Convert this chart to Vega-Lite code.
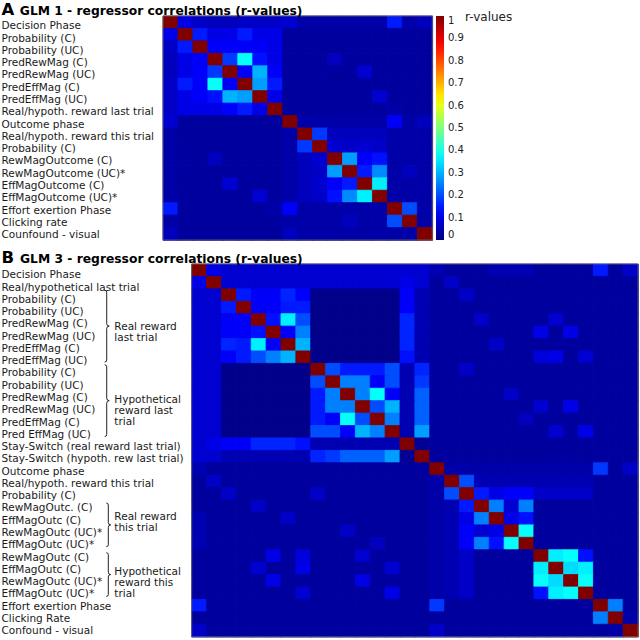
{
"$schema":"https://vega.github.io/schema/vega-lite/v6.json",
"width":640,"height":640,"autosize":{"type":"none"},"padding":0,"background":"white",
"config":{"view":{"stroke":null},"text":{"font":"DejaVu Sans"},"legend":{"labelFont":"DejaVu Sans"}},
"datasets":{
"A":[
{"r":0,"c":0,"v":1},{"r":0,"c":1,"v":0.1},{"r":0,"c":2,"v":0.07},{"r":0,"c":3,"v":0.06},{"r":0,"c":4,"v":0.06},{"r":0,"c":5,"v":0.07},{"r":0,"c":6,"v":0.07},{"r":0,"c":7,"v":0.07},{"r":0,"c":8,"v":0.08},{"r":0,"c":9,"v":0.04},{"r":0,"c":10,"v":0.04},{"r":0,"c":11,"v":0.04},{"r":0,"c":12,"v":0.04},{"r":0,"c":13,"v":0.04},{"r":0,"c":14,"v":0.04},{"r":0,"c":15,"v":0.15},{"r":0,"c":16,"v":0.04},{"r":0,"c":17,"v":0.06},
{"r":1,"c":0,"v":0.1},{"r":1,"c":1,"v":1},{"r":1,"c":2,"v":0.15},{"r":1,"c":3,"v":0.1},{"r":1,"c":4,"v":0.1},{"r":1,"c":5,"v":0.15},{"r":1,"c":6,"v":0.1},{"r":1,"c":7,"v":0.1},{"r":1,"c":8,"v":0.03},{"r":1,"c":9,"v":0.03},{"r":1,"c":10,"v":0.03},{"r":1,"c":11,"v":0.03},{"r":1,"c":12,"v":0.03},{"r":1,"c":13,"v":0.03},{"r":1,"c":14,"v":0.03},{"r":1,"c":15,"v":0.03},{"r":1,"c":16,"v":0.03},{"r":1,"c":17,"v":0.03},
{"r":2,"c":0,"v":0.07},{"r":2,"c":1,"v":0.15},{"r":2,"c":2,"v":1},{"r":2,"c":3,"v":0.12},{"r":2,"c":4,"v":0.12},{"r":2,"c":5,"v":0.12},{"r":2,"c":6,"v":0.12},{"r":2,"c":7,"v":0.1},{"r":2,"c":8,"v":0.03},{"r":2,"c":9,"v":0.03},{"r":2,"c":10,"v":0.03},{"r":2,"c":11,"v":0.03},{"r":2,"c":12,"v":0.03},{"r":2,"c":13,"v":0.03},{"r":2,"c":14,"v":0.03},{"r":2,"c":15,"v":0.03},{"r":2,"c":16,"v":0.03},{"r":2,"c":17,"v":0.03},
{"r":3,"c":0,"v":0.06},{"r":3,"c":1,"v":0.1},{"r":3,"c":2,"v":0.12},{"r":3,"c":3,"v":1},{"r":3,"c":4,"v":0.18},{"r":3,"c":5,"v":0.38},{"r":3,"c":6,"v":0.14},{"r":3,"c":7,"v":0.1},{"r":3,"c":8,"v":0.03},{"r":3,"c":9,"v":0.03},{"r":3,"c":10,"v":0.03},{"r":3,"c":11,"v":0.06},{"r":3,"c":12,"v":0.03},{"r":3,"c":13,"v":0.03},{"r":3,"c":14,"v":0.03},{"r":3,"c":15,"v":0.03},{"r":3,"c":16,"v":0.03},{"r":3,"c":17,"v":0.03},
{"r":4,"c":0,"v":0.06},{"r":4,"c":1,"v":0.1},{"r":4,"c":2,"v":0.12},{"r":4,"c":3,"v":0.18},{"r":4,"c":4,"v":1},{"r":4,"c":5,"v":0.12},{"r":4,"c":6,"v":0.3},{"r":4,"c":7,"v":0.12},{"r":4,"c":8,"v":0.03},{"r":4,"c":9,"v":0.03},{"r":4,"c":10,"v":0.03},{"r":4,"c":11,"v":0.03},{"r":4,"c":12,"v":0.03},{"r":4,"c":13,"v":0.08},{"r":4,"c":14,"v":0.03},{"r":4,"c":15,"v":0.03},{"r":4,"c":16,"v":0.03},{"r":4,"c":17,"v":0.03},
{"r":5,"c":0,"v":0.07},{"r":5,"c":1,"v":0.15},{"r":5,"c":2,"v":0.12},{"r":5,"c":3,"v":0.38},{"r":5,"c":4,"v":0.12},{"r":5,"c":5,"v":1},{"r":5,"c":6,"v":0.28},{"r":5,"c":7,"v":0.15},{"r":5,"c":8,"v":0.03},{"r":5,"c":9,"v":0.03},{"r":5,"c":10,"v":0.03},{"r":5,"c":11,"v":0.03},{"r":5,"c":12,"v":0.03},{"r":5,"c":13,"v":0.03},{"r":5,"c":14,"v":0.03},{"r":5,"c":15,"v":0.03},{"r":5,"c":16,"v":0.03},{"r":5,"c":17,"v":0.03},
{"r":6,"c":0,"v":0.07},{"r":6,"c":1,"v":0.1},{"r":6,"c":2,"v":0.12},{"r":6,"c":3,"v":0.14},{"r":6,"c":4,"v":0.3},{"r":6,"c":5,"v":0.28},{"r":6,"c":6,"v":1},{"r":6,"c":7,"v":0.1},{"r":6,"c":8,"v":0.03},{"r":6,"c":9,"v":0.03},{"r":6,"c":10,"v":0.03},{"r":6,"c":11,"v":0.03},{"r":6,"c":12,"v":0.03},{"r":6,"c":13,"v":0.03},{"r":6,"c":14,"v":0.08},{"r":6,"c":15,"v":0.03},{"r":6,"c":16,"v":0.03},{"r":6,"c":17,"v":0.03},
{"r":7,"c":0,"v":0.07},{"r":7,"c":1,"v":0.1},{"r":7,"c":2,"v":0.1},{"r":7,"c":3,"v":0.1},{"r":7,"c":4,"v":0.12},{"r":7,"c":5,"v":0.15},{"r":7,"c":6,"v":0.1},{"r":7,"c":7,"v":1},{"r":7,"c":8,"v":0.03},{"r":7,"c":9,"v":0.03},{"r":7,"c":10,"v":0.03},{"r":7,"c":11,"v":0.03},{"r":7,"c":12,"v":0.03},{"r":7,"c":13,"v":0.03},{"r":7,"c":14,"v":0.03},{"r":7,"c":15,"v":0.04},{"r":7,"c":16,"v":0.03},{"r":7,"c":17,"v":0.03},
{"r":8,"c":0,"v":0.08},{"r":8,"c":1,"v":0.03},{"r":8,"c":2,"v":0.03},{"r":8,"c":3,"v":0.03},{"r":8,"c":4,"v":0.03},{"r":8,"c":5,"v":0.03},{"r":8,"c":6,"v":0.03},{"r":8,"c":7,"v":0.03},{"r":8,"c":8,"v":1},{"r":8,"c":9,"v":0.04},{"r":8,"c":10,"v":0.04},{"r":8,"c":11,"v":0.04},{"r":8,"c":12,"v":0.04},{"r":8,"c":13,"v":0.04},{"r":8,"c":14,"v":0.04},{"r":8,"c":15,"v":0.12},{"r":8,"c":16,"v":0.04},{"r":8,"c":17,"v":0.06},
{"r":9,"c":0,"v":0.04},{"r":9,"c":1,"v":0.03},{"r":9,"c":2,"v":0.03},{"r":9,"c":3,"v":0.03},{"r":9,"c":4,"v":0.03},{"r":9,"c":5,"v":0.03},{"r":9,"c":6,"v":0.03},{"r":9,"c":7,"v":0.03},{"r":9,"c":8,"v":0.04},{"r":9,"c":9,"v":1},{"r":9,"c":10,"v":0.18},{"r":9,"c":11,"v":0.06},{"r":9,"c":12,"v":0.06},{"r":9,"c":13,"v":0.06},{"r":9,"c":14,"v":0.06},{"r":9,"c":15,"v":0.04},{"r":9,"c":16,"v":0.04},{"r":9,"c":17,"v":0.04},
{"r":10,"c":0,"v":0.04},{"r":10,"c":1,"v":0.03},{"r":10,"c":2,"v":0.03},{"r":10,"c":3,"v":0.03},{"r":10,"c":4,"v":0.03},{"r":10,"c":5,"v":0.03},{"r":10,"c":6,"v":0.03},{"r":10,"c":7,"v":0.03},{"r":10,"c":8,"v":0.04},{"r":10,"c":9,"v":0.18},{"r":10,"c":10,"v":1},{"r":10,"c":11,"v":0.08},{"r":10,"c":12,"v":0.07},{"r":10,"c":13,"v":0.08},{"r":10,"c":14,"v":0.07},{"r":10,"c":15,"v":0.04},{"r":10,"c":16,"v":0.04},{"r":10,"c":17,"v":0.04},
{"r":11,"c":0,"v":0.04},{"r":11,"c":1,"v":0.03},{"r":11,"c":2,"v":0.03},{"r":11,"c":3,"v":0.06},{"r":11,"c":4,"v":0.03},{"r":11,"c":5,"v":0.03},{"r":11,"c":6,"v":0.03},{"r":11,"c":7,"v":0.03},{"r":11,"c":8,"v":0.04},{"r":11,"c":9,"v":0.06},{"r":11,"c":10,"v":0.08},{"r":11,"c":11,"v":1},{"r":11,"c":12,"v":0.28},{"r":11,"c":13,"v":0.12},{"r":11,"c":14,"v":0.14},{"r":11,"c":15,"v":0.04},{"r":11,"c":16,"v":0.04},{"r":11,"c":17,"v":0.04},
{"r":12,"c":0,"v":0.04},{"r":12,"c":1,"v":0.03},{"r":12,"c":2,"v":0.03},{"r":12,"c":3,"v":0.03},{"r":12,"c":4,"v":0.03},{"r":12,"c":5,"v":0.03},{"r":12,"c":6,"v":0.03},{"r":12,"c":7,"v":0.03},{"r":12,"c":8,"v":0.04},{"r":12,"c":9,"v":0.06},{"r":12,"c":10,"v":0.07},{"r":12,"c":11,"v":0.28},{"r":12,"c":12,"v":1},{"r":12,"c":13,"v":0.15},{"r":12,"c":14,"v":0.26},{"r":12,"c":15,"v":0.04},{"r":12,"c":16,"v":0.06},{"r":12,"c":17,"v":0.04},
{"r":13,"c":0,"v":0.04},{"r":13,"c":1,"v":0.03},{"r":13,"c":2,"v":0.03},{"r":13,"c":3,"v":0.03},{"r":13,"c":4,"v":0.08},{"r":13,"c":5,"v":0.03},{"r":13,"c":6,"v":0.03},{"r":13,"c":7,"v":0.03},{"r":13,"c":8,"v":0.04},{"r":13,"c":9,"v":0.06},{"r":13,"c":10,"v":0.08},{"r":13,"c":11,"v":0.12},{"r":13,"c":12,"v":0.15},{"r":13,"c":13,"v":1},{"r":13,"c":14,"v":0.36},{"r":13,"c":15,"v":0.04},{"r":13,"c":16,"v":0.04},{"r":13,"c":17,"v":0.04},
{"r":14,"c":0,"v":0.04},{"r":14,"c":1,"v":0.03},{"r":14,"c":2,"v":0.03},{"r":14,"c":3,"v":0.03},{"r":14,"c":4,"v":0.03},{"r":14,"c":5,"v":0.03},{"r":14,"c":6,"v":0.08},{"r":14,"c":7,"v":0.03},{"r":14,"c":8,"v":0.04},{"r":14,"c":9,"v":0.06},{"r":14,"c":10,"v":0.07},{"r":14,"c":11,"v":0.14},{"r":14,"c":12,"v":0.26},{"r":14,"c":13,"v":0.36},{"r":14,"c":14,"v":1},{"r":14,"c":15,"v":0.04},{"r":14,"c":16,"v":0.04},{"r":14,"c":17,"v":0.04},
{"r":15,"c":0,"v":0.15},{"r":15,"c":1,"v":0.03},{"r":15,"c":2,"v":0.03},{"r":15,"c":3,"v":0.03},{"r":15,"c":4,"v":0.03},{"r":15,"c":5,"v":0.03},{"r":15,"c":6,"v":0.03},{"r":15,"c":7,"v":0.04},{"r":15,"c":8,"v":0.12},{"r":15,"c":9,"v":0.04},{"r":15,"c":10,"v":0.04},{"r":15,"c":11,"v":0.04},{"r":15,"c":12,"v":0.04},{"r":15,"c":13,"v":0.04},{"r":15,"c":14,"v":0.04},{"r":15,"c":15,"v":1},{"r":15,"c":16,"v":0.2},{"r":15,"c":17,"v":0.04},
{"r":16,"c":0,"v":0.04},{"r":16,"c":1,"v":0.03},{"r":16,"c":2,"v":0.03},{"r":16,"c":3,"v":0.03},{"r":16,"c":4,"v":0.03},{"r":16,"c":5,"v":0.03},{"r":16,"c":6,"v":0.03},{"r":16,"c":7,"v":0.03},{"r":16,"c":8,"v":0.04},{"r":16,"c":9,"v":0.04},{"r":16,"c":10,"v":0.04},{"r":16,"c":11,"v":0.04},{"r":16,"c":12,"v":0.06},{"r":16,"c":13,"v":0.04},{"r":16,"c":14,"v":0.04},{"r":16,"c":15,"v":0.2},{"r":16,"c":16,"v":1},{"r":16,"c":17,"v":0.04},
{"r":17,"c":0,"v":0.06},{"r":17,"c":1,"v":0.03},{"r":17,"c":2,"v":0.03},{"r":17,"c":3,"v":0.03},{"r":17,"c":4,"v":0.03},{"r":17,"c":5,"v":0.03},{"r":17,"c":6,"v":0.03},{"r":17,"c":7,"v":0.03},{"r":17,"c":8,"v":0.06},{"r":17,"c":9,"v":0.04},{"r":17,"c":10,"v":0.04},{"r":17,"c":11,"v":0.04},{"r":17,"c":12,"v":0.04},{"r":17,"c":13,"v":0.04},{"r":17,"c":14,"v":0.04},{"r":17,"c":15,"v":0.04},{"r":17,"c":16,"v":0.04},{"r":17,"c":17,"v":1}
],
"B":[
{"r":0,"c":0,"v":1},{"r":0,"c":1,"v":0.1},{"r":0,"c":2,"v":0.08},{"r":0,"c":3,"v":0.08},{"r":0,"c":4,"v":0.08},{"r":0,"c":5,"v":0.08},{"r":0,"c":6,"v":0.08},{"r":0,"c":7,"v":0.08},{"r":0,"c":8,"v":0.08},{"r":0,"c":9,"v":0.08},{"r":0,"c":10,"v":0.08},{"r":0,"c":11,"v":0.08},{"r":0,"c":12,"v":0.08},{"r":0,"c":13,"v":0.08},{"r":0,"c":14,"v":0.08},{"r":0,"c":15,"v":0.08},{"r":0,"c":16,"v":0.05},{"r":0,"c":17,"v":0.03},{"r":0,"c":18,"v":0.03},{"r":0,"c":19,"v":0.03},{"r":0,"c":20,"v":0.05},{"r":0,"c":21,"v":0.05},{"r":0,"c":22,"v":0.05},{"r":0,"c":23,"v":0.03},{"r":0,"c":24,"v":0.03},{"r":0,"c":25,"v":0.03},{"r":0,"c":26,"v":0.03},{"r":0,"c":27,"v":0.15},{"r":0,"c":28,"v":0.03},{"r":0,"c":29,"v":0.07},
{"r":1,"c":0,"v":0.1},{"r":1,"c":1,"v":1},{"r":1,"c":2,"v":0.08},{"r":1,"c":3,"v":0.08},{"r":1,"c":4,"v":0.08},{"r":1,"c":5,"v":0.08},{"r":1,"c":6,"v":0.08},{"r":1,"c":7,"v":0.08},{"r":1,"c":8,"v":0.08},{"r":1,"c":9,"v":0.08},{"r":1,"c":10,"v":0.08},{"r":1,"c":11,"v":0.08},{"r":1,"c":12,"v":0.08},{"r":1,"c":13,"v":0.08},{"r":1,"c":14,"v":0.1},{"r":1,"c":15,"v":0.08},{"r":1,"c":16,"v":0.03},{"r":1,"c":17,"v":0.07},{"r":1,"c":18,"v":0.03},{"r":1,"c":19,"v":0.03},{"r":1,"c":20,"v":0.03},{"r":1,"c":21,"v":0.03},{"r":1,"c":22,"v":0.03},{"r":1,"c":23,"v":0.03},{"r":1,"c":24,"v":0.03},{"r":1,"c":25,"v":0.03},{"r":1,"c":26,"v":0.03},{"r":1,"c":27,"v":0.03},{"r":1,"c":28,"v":0.03},{"r":1,"c":29,"v":0.03},
{"r":2,"c":0,"v":0.08},{"r":2,"c":1,"v":0.08},{"r":2,"c":2,"v":1},{"r":2,"c":3,"v":0.15},{"r":2,"c":4,"v":0.12},{"r":2,"c":5,"v":0.12},{"r":2,"c":6,"v":0.16},{"r":2,"c":7,"v":0.12},{"r":2,"c":8,"v":0.01},{"r":2,"c":9,"v":0.01},{"r":2,"c":10,"v":0.01},{"r":2,"c":11,"v":0.01},{"r":2,"c":12,"v":0.01},{"r":2,"c":13,"v":0.01},{"r":2,"c":14,"v":0.12},{"r":2,"c":15,"v":0.05},{"r":2,"c":16,"v":0.03},{"r":2,"c":17,"v":0.03},{"r":2,"c":18,"v":0.07},{"r":2,"c":19,"v":0.03},{"r":2,"c":20,"v":0.03},{"r":2,"c":21,"v":0.03},{"r":2,"c":22,"v":0.03},{"r":2,"c":23,"v":0.03},{"r":2,"c":24,"v":0.03},{"r":2,"c":25,"v":0.03},{"r":2,"c":26,"v":0.03},{"r":2,"c":27,"v":0.03},{"r":2,"c":28,"v":0.03},{"r":2,"c":29,"v":0.03},
{"r":3,"c":0,"v":0.08},{"r":3,"c":1,"v":0.08},{"r":3,"c":2,"v":0.15},{"r":3,"c":3,"v":1},{"r":3,"c":4,"v":0.12},{"r":3,"c":5,"v":0.12},{"r":3,"c":6,"v":0.15},{"r":3,"c":7,"v":0.15},{"r":3,"c":8,"v":0.01},{"r":3,"c":9,"v":0.01},{"r":3,"c":10,"v":0.01},{"r":3,"c":11,"v":0.01},{"r":3,"c":12,"v":0.01},{"r":3,"c":13,"v":0.01},{"r":3,"c":14,"v":0.12},{"r":3,"c":15,"v":0.05},{"r":3,"c":16,"v":0.03},{"r":3,"c":17,"v":0.03},{"r":3,"c":18,"v":0.03},{"r":3,"c":19,"v":0.03},{"r":3,"c":20,"v":0.03},{"r":3,"c":21,"v":0.03},{"r":3,"c":22,"v":0.03},{"r":3,"c":23,"v":0.03},{"r":3,"c":24,"v":0.03},{"r":3,"c":25,"v":0.03},{"r":3,"c":26,"v":0.03},{"r":3,"c":27,"v":0.03},{"r":3,"c":28,"v":0.03},{"r":3,"c":29,"v":0.03},
{"r":4,"c":0,"v":0.08},{"r":4,"c":1,"v":0.08},{"r":4,"c":2,"v":0.12},{"r":4,"c":3,"v":0.12},{"r":4,"c":4,"v":1},{"r":4,"c":5,"v":0.14},{"r":4,"c":6,"v":0.36},{"r":4,"c":7,"v":0.2},{"r":4,"c":8,"v":0.01},{"r":4,"c":9,"v":0.01},{"r":4,"c":10,"v":0.01},{"r":4,"c":11,"v":0.01},{"r":4,"c":12,"v":0.01},{"r":4,"c":13,"v":0.01},{"r":4,"c":14,"v":0.16},{"r":4,"c":15,"v":0.05},{"r":4,"c":16,"v":0.03},{"r":4,"c":17,"v":0.03},{"r":4,"c":18,"v":0.03},{"r":4,"c":19,"v":0.07},{"r":4,"c":20,"v":0.03},{"r":4,"c":21,"v":0.03},{"r":4,"c":22,"v":0.03},{"r":4,"c":23,"v":0.03},{"r":4,"c":24,"v":0.08},{"r":4,"c":25,"v":0.03},{"r":4,"c":26,"v":0.03},{"r":4,"c":27,"v":0.03},{"r":4,"c":28,"v":0.03},{"r":4,"c":29,"v":0.03},
{"r":5,"c":0,"v":0.08},{"r":5,"c":1,"v":0.08},{"r":5,"c":2,"v":0.12},{"r":5,"c":3,"v":0.12},{"r":5,"c":4,"v":0.14},{"r":5,"c":5,"v":1},{"r":5,"c":6,"v":0.12},{"r":5,"c":7,"v":0.25},{"r":5,"c":8,"v":0.01},{"r":5,"c":9,"v":0.01},{"r":5,"c":10,"v":0.01},{"r":5,"c":11,"v":0.01},{"r":5,"c":12,"v":0.01},{"r":5,"c":13,"v":0.01},{"r":5,"c":14,"v":0.16},{"r":5,"c":15,"v":0.05},{"r":5,"c":16,"v":0.03},{"r":5,"c":17,"v":0.03},{"r":5,"c":18,"v":0.03},{"r":5,"c":19,"v":0.03},{"r":5,"c":20,"v":0.03},{"r":5,"c":21,"v":0.03},{"r":5,"c":22,"v":0.03},{"r":5,"c":23,"v":0.1},{"r":5,"c":24,"v":0.03},{"r":5,"c":25,"v":0.1},{"r":5,"c":26,"v":0.03},{"r":5,"c":27,"v":0.03},{"r":5,"c":28,"v":0.03},{"r":5,"c":29,"v":0.03},
{"r":6,"c":0,"v":0.08},{"r":6,"c":1,"v":0.08},{"r":6,"c":2,"v":0.16},{"r":6,"c":3,"v":0.15},{"r":6,"c":4,"v":0.36},{"r":6,"c":5,"v":0.12},{"r":6,"c":6,"v":1},{"r":6,"c":7,"v":0.3},{"r":6,"c":8,"v":0.01},{"r":6,"c":9,"v":0.01},{"r":6,"c":10,"v":0.01},{"r":6,"c":11,"v":0.01},{"r":6,"c":12,"v":0.01},{"r":6,"c":13,"v":0.01},{"r":6,"c":14,"v":0.16},{"r":6,"c":15,"v":0.05},{"r":6,"c":16,"v":0.03},{"r":6,"c":17,"v":0.03},{"r":6,"c":18,"v":0.03},{"r":6,"c":19,"v":0.03},{"r":6,"c":20,"v":0.07},{"r":6,"c":21,"v":0.03},{"r":6,"c":22,"v":0.03},{"r":6,"c":23,"v":0.03},{"r":6,"c":24,"v":0.03},{"r":6,"c":25,"v":0.03},{"r":6,"c":26,"v":0.03},{"r":6,"c":27,"v":0.03},{"r":6,"c":28,"v":0.03},{"r":6,"c":29,"v":0.03},
{"r":7,"c":0,"v":0.08},{"r":7,"c":1,"v":0.08},{"r":7,"c":2,"v":0.12},{"r":7,"c":3,"v":0.15},{"r":7,"c":4,"v":0.2},{"r":7,"c":5,"v":0.25},{"r":7,"c":6,"v":0.3},{"r":7,"c":7,"v":1},{"r":7,"c":8,"v":0.01},{"r":7,"c":9,"v":0.01},{"r":7,"c":10,"v":0.01},{"r":7,"c":11,"v":0.01},{"r":7,"c":12,"v":0.01},{"r":7,"c":13,"v":0.01},{"r":7,"c":14,"v":0.14},{"r":7,"c":15,"v":0.05},{"r":7,"c":16,"v":0.03},{"r":7,"c":17,"v":0.03},{"r":7,"c":18,"v":0.03},{"r":7,"c":19,"v":0.03},{"r":7,"c":20,"v":0.03},{"r":7,"c":21,"v":0.03},{"r":7,"c":22,"v":0.03},{"r":7,"c":23,"v":0.09},{"r":7,"c":24,"v":0.1},{"r":7,"c":25,"v":0.03},{"r":7,"c":26,"v":0.08},{"r":7,"c":27,"v":0.03},{"r":7,"c":28,"v":0.03},{"r":7,"c":29,"v":0.03},
{"r":8,"c":0,"v":0.08},{"r":8,"c":1,"v":0.08},{"r":8,"c":2,"v":0.01},{"r":8,"c":3,"v":0.01},{"r":8,"c":4,"v":0.01},{"r":8,"c":5,"v":0.01},{"r":8,"c":6,"v":0.01},{"r":8,"c":7,"v":0.01},{"r":8,"c":8,"v":1},{"r":8,"c":9,"v":0.2},{"r":8,"c":10,"v":0.15},{"r":8,"c":11,"v":0.15},{"r":8,"c":12,"v":0.15},{"r":8,"c":13,"v":0.2},{"r":8,"c":14,"v":0.05},{"r":8,"c":15,"v":0.16},{"r":8,"c":16,"v":0.03},{"r":8,"c":17,"v":0.03},{"r":8,"c":18,"v":0.07},{"r":8,"c":19,"v":0.03},{"r":8,"c":20,"v":0.03},{"r":8,"c":21,"v":0.03},{"r":8,"c":22,"v":0.03},{"r":8,"c":23,"v":0.03},{"r":8,"c":24,"v":0.03},{"r":8,"c":25,"v":0.03},{"r":8,"c":26,"v":0.03},{"r":8,"c":27,"v":0.03},{"r":8,"c":28,"v":0.03},{"r":8,"c":29,"v":0.03},
{"r":9,"c":0,"v":0.08},{"r":9,"c":1,"v":0.08},{"r":9,"c":2,"v":0.01},{"r":9,"c":3,"v":0.01},{"r":9,"c":4,"v":0.01},{"r":9,"c":5,"v":0.01},{"r":9,"c":6,"v":0.01},{"r":9,"c":7,"v":0.01},{"r":9,"c":8,"v":0.2},{"r":9,"c":9,"v":1},{"r":9,"c":10,"v":0.25},{"r":9,"c":11,"v":0.25},{"r":9,"c":12,"v":0.12},{"r":9,"c":13,"v":0.2},{"r":9,"c":14,"v":0.05},{"r":9,"c":15,"v":0.18},{"r":9,"c":16,"v":0.03},{"r":9,"c":17,"v":0.03},{"r":9,"c":18,"v":0.03},{"r":9,"c":19,"v":0.03},{"r":9,"c":20,"v":0.03},{"r":9,"c":21,"v":0.03},{"r":9,"c":22,"v":0.03},{"r":9,"c":23,"v":0.03},{"r":9,"c":24,"v":0.03},{"r":9,"c":25,"v":0.03},{"r":9,"c":26,"v":0.03},{"r":9,"c":27,"v":0.03},{"r":9,"c":28,"v":0.03},{"r":9,"c":29,"v":0.03},
{"r":10,"c":0,"v":0.08},{"r":10,"c":1,"v":0.08},{"r":10,"c":2,"v":0.01},{"r":10,"c":3,"v":0.01},{"r":10,"c":4,"v":0.01},{"r":10,"c":5,"v":0.01},{"r":10,"c":6,"v":0.01},{"r":10,"c":7,"v":0.01},{"r":10,"c":8,"v":0.15},{"r":10,"c":9,"v":0.25},{"r":10,"c":10,"v":1},{"r":10,"c":11,"v":0.25},{"r":10,"c":12,"v":0.38},{"r":10,"c":13,"v":0.12},{"r":10,"c":14,"v":0.05},{"r":10,"c":15,"v":0.22},{"r":10,"c":16,"v":0.03},{"r":10,"c":17,"v":0.03},{"r":10,"c":18,"v":0.03},{"r":10,"c":19,"v":0.03},{"r":10,"c":20,"v":0.03},{"r":10,"c":21,"v":0.07},{"r":10,"c":22,"v":0.03},{"r":10,"c":23,"v":0.03},{"r":10,"c":24,"v":0.03},{"r":10,"c":25,"v":0.03},{"r":10,"c":26,"v":0.03},{"r":10,"c":27,"v":0.03},{"r":10,"c":28,"v":0.03},{"r":10,"c":29,"v":0.03},
{"r":11,"c":0,"v":0.08},{"r":11,"c":1,"v":0.08},{"r":11,"c":2,"v":0.01},{"r":11,"c":3,"v":0.01},{"r":11,"c":4,"v":0.01},{"r":11,"c":5,"v":0.01},{"r":11,"c":6,"v":0.01},{"r":11,"c":7,"v":0.01},{"r":11,"c":8,"v":0.15},{"r":11,"c":9,"v":0.25},{"r":11,"c":10,"v":0.25},{"r":11,"c":11,"v":1},{"r":11,"c":12,"v":0.2},{"r":11,"c":13,"v":0.3},{"r":11,"c":14,"v":0.05},{"r":11,"c":15,"v":0.22},{"r":11,"c":16,"v":0.03},{"r":11,"c":17,"v":0.03},{"r":11,"c":18,"v":0.03},{"r":11,"c":19,"v":0.03},{"r":11,"c":20,"v":0.03},{"r":11,"c":21,"v":0.03},{"r":11,"c":22,"v":0.03},{"r":11,"c":23,"v":0.08},{"r":11,"c":24,"v":0.03},{"r":11,"c":25,"v":0.1},{"r":11,"c":26,"v":0.03},{"r":11,"c":27,"v":0.03},{"r":11,"c":28,"v":0.03},{"r":11,"c":29,"v":0.03},
{"r":12,"c":0,"v":0.08},{"r":12,"c":1,"v":0.08},{"r":12,"c":2,"v":0.01},{"r":12,"c":3,"v":0.01},{"r":12,"c":4,"v":0.01},{"r":12,"c":5,"v":0.01},{"r":12,"c":6,"v":0.01},{"r":12,"c":7,"v":0.01},{"r":12,"c":8,"v":0.15},{"r":12,"c":9,"v":0.12},{"r":12,"c":10,"v":0.38},{"r":12,"c":11,"v":0.2},{"r":12,"c":12,"v":1},{"r":12,"c":13,"v":0.25},{"r":12,"c":14,"v":0.05},{"r":12,"c":15,"v":0.22},{"r":12,"c":16,"v":0.03},{"r":12,"c":17,"v":0.03},{"r":12,"c":18,"v":0.03},{"r":12,"c":19,"v":0.03},{"r":12,"c":20,"v":0.03},{"r":12,"c":21,"v":0.03},{"r":12,"c":22,"v":0.06},{"r":12,"c":23,"v":0.03},{"r":12,"c":24,"v":0.03},{"r":12,"c":25,"v":0.03},{"r":12,"c":26,"v":0.03},{"r":12,"c":27,"v":0.03},{"r":12,"c":28,"v":0.03},{"r":12,"c":29,"v":0.03},
{"r":13,"c":0,"v":0.08},{"r":13,"c":1,"v":0.08},{"r":13,"c":2,"v":0.01},{"r":13,"c":3,"v":0.01},{"r":13,"c":4,"v":0.01},{"r":13,"c":5,"v":0.01},{"r":13,"c":6,"v":0.01},{"r":13,"c":7,"v":0.01},{"r":13,"c":8,"v":0.2},{"r":13,"c":9,"v":0.2},{"r":13,"c":10,"v":0.12},{"r":13,"c":11,"v":0.3},{"r":13,"c":12,"v":0.25},{"r":13,"c":13,"v":1},{"r":13,"c":14,"v":0.05},{"r":13,"c":15,"v":0.28},{"r":13,"c":16,"v":0.03},{"r":13,"c":17,"v":0.03},{"r":13,"c":18,"v":0.03},{"r":13,"c":19,"v":0.03},{"r":13,"c":20,"v":0.03},{"r":13,"c":21,"v":0.03},{"r":13,"c":22,"v":0.03},{"r":13,"c":23,"v":0.03},{"r":13,"c":24,"v":0.08},{"r":13,"c":25,"v":0.03},{"r":13,"c":26,"v":0.1},{"r":13,"c":27,"v":0.03},{"r":13,"c":28,"v":0.03},{"r":13,"c":29,"v":0.03},
{"r":14,"c":0,"v":0.08},{"r":14,"c":1,"v":0.1},{"r":14,"c":2,"v":0.12},{"r":14,"c":3,"v":0.12},{"r":14,"c":4,"v":0.16},{"r":14,"c":5,"v":0.16},{"r":14,"c":6,"v":0.16},{"r":14,"c":7,"v":0.14},{"r":14,"c":8,"v":0.05},{"r":14,"c":9,"v":0.05},{"r":14,"c":10,"v":0.05},{"r":14,"c":11,"v":0.05},{"r":14,"c":12,"v":0.05},{"r":14,"c":13,"v":0.05},{"r":14,"c":14,"v":1},{"r":14,"c":15,"v":0.02},{"r":14,"c":16,"v":0.03},{"r":14,"c":17,"v":0.03},{"r":14,"c":18,"v":0.03},{"r":14,"c":19,"v":0.03},{"r":14,"c":20,"v":0.03},{"r":14,"c":21,"v":0.03},{"r":14,"c":22,"v":0.03},{"r":14,"c":23,"v":0.03},{"r":14,"c":24,"v":0.03},{"r":14,"c":25,"v":0.03},{"r":14,"c":26,"v":0.03},{"r":14,"c":27,"v":0.03},{"r":14,"c":28,"v":0.03},{"r":14,"c":29,"v":0.03},
{"r":15,"c":0,"v":0.08},{"r":15,"c":1,"v":0.08},{"r":15,"c":2,"v":0.05},{"r":15,"c":3,"v":0.05},{"r":15,"c":4,"v":0.05},{"r":15,"c":5,"v":0.05},{"r":15,"c":6,"v":0.05},{"r":15,"c":7,"v":0.05},{"r":15,"c":8,"v":0.16},{"r":15,"c":9,"v":0.18},{"r":15,"c":10,"v":0.22},{"r":15,"c":11,"v":0.22},{"r":15,"c":12,"v":0.22},{"r":15,"c":13,"v":0.28},{"r":15,"c":14,"v":0.02},{"r":15,"c":15,"v":1},{"r":15,"c":16,"v":0.03},{"r":15,"c":17,"v":0.03},{"r":15,"c":18,"v":0.03},{"r":15,"c":19,"v":0.03},{"r":15,"c":20,"v":0.03},{"r":15,"c":21,"v":0.03},{"r":15,"c":22,"v":0.03},{"r":15,"c":23,"v":0.03},{"r":15,"c":24,"v":0.03},{"r":15,"c":25,"v":0.03},{"r":15,"c":26,"v":0.03},{"r":15,"c":27,"v":0.03},{"r":15,"c":28,"v":0.03},{"r":15,"c":29,"v":0.03},
{"r":16,"c":0,"v":0.05},{"r":16,"c":1,"v":0.03},{"r":16,"c":2,"v":0.03},{"r":16,"c":3,"v":0.03},{"r":16,"c":4,"v":0.03},{"r":16,"c":5,"v":0.03},{"r":16,"c":6,"v":0.03},{"r":16,"c":7,"v":0.03},{"r":16,"c":8,"v":0.03},{"r":16,"c":9,"v":0.03},{"r":16,"c":10,"v":0.03},{"r":16,"c":11,"v":0.03},{"r":16,"c":12,"v":0.03},{"r":16,"c":13,"v":0.03},{"r":16,"c":14,"v":0.03},{"r":16,"c":15,"v":0.03},{"r":16,"c":16,"v":1},{"r":16,"c":17,"v":0.04},{"r":16,"c":18,"v":0.04},{"r":16,"c":19,"v":0.04},{"r":16,"c":20,"v":0.04},{"r":16,"c":21,"v":0.04},{"r":16,"c":22,"v":0.04},{"r":16,"c":23,"v":0.04},{"r":16,"c":24,"v":0.04},{"r":16,"c":25,"v":0.04},{"r":16,"c":26,"v":0.04},{"r":16,"c":27,"v":0.18},{"r":16,"c":28,"v":0.03},{"r":16,"c":29,"v":0.07},
{"r":17,"c":0,"v":0.03},{"r":17,"c":1,"v":0.07},{"r":17,"c":2,"v":0.03},{"r":17,"c":3,"v":0.03},{"r":17,"c":4,"v":0.03},{"r":17,"c":5,"v":0.03},{"r":17,"c":6,"v":0.03},{"r":17,"c":7,"v":0.03},{"r":17,"c":8,"v":0.03},{"r":17,"c":9,"v":0.03},{"r":17,"c":10,"v":0.03},{"r":17,"c":11,"v":0.03},{"r":17,"c":12,"v":0.03},{"r":17,"c":13,"v":0.03},{"r":17,"c":14,"v":0.03},{"r":17,"c":15,"v":0.03},{"r":17,"c":16,"v":0.04},{"r":17,"c":17,"v":1},{"r":17,"c":18,"v":0.2},{"r":17,"c":19,"v":0.05},{"r":17,"c":20,"v":0.05},{"r":17,"c":21,"v":0.05},{"r":17,"c":22,"v":0.05},{"r":17,"c":23,"v":0.05},{"r":17,"c":24,"v":0.05},{"r":17,"c":25,"v":0.05},{"r":17,"c":26,"v":0.05},{"r":17,"c":27,"v":0.03},{"r":17,"c":28,"v":0.03},{"r":17,"c":29,"v":0.03},
{"r":18,"c":0,"v":0.03},{"r":18,"c":1,"v":0.03},{"r":18,"c":2,"v":0.07},{"r":18,"c":3,"v":0.03},{"r":18,"c":4,"v":0.03},{"r":18,"c":5,"v":0.03},{"r":18,"c":6,"v":0.03},{"r":18,"c":7,"v":0.03},{"r":18,"c":8,"v":0.07},{"r":18,"c":9,"v":0.03},{"r":18,"c":10,"v":0.03},{"r":18,"c":11,"v":0.03},{"r":18,"c":12,"v":0.03},{"r":18,"c":13,"v":0.03},{"r":18,"c":14,"v":0.03},{"r":18,"c":15,"v":0.03},{"r":18,"c":16,"v":0.04},{"r":18,"c":17,"v":0.2},{"r":18,"c":18,"v":1},{"r":18,"c":19,"v":0.15},{"r":18,"c":20,"v":0.1},{"r":18,"c":21,"v":0.12},{"r":18,"c":22,"v":0.12},{"r":18,"c":23,"v":0.07},{"r":18,"c":24,"v":0.07},{"r":18,"c":25,"v":0.07},{"r":18,"c":26,"v":0.07},{"r":18,"c":27,"v":0.03},{"r":18,"c":28,"v":0.03},{"r":18,"c":29,"v":0.03},
{"r":19,"c":0,"v":0.03},{"r":19,"c":1,"v":0.03},{"r":19,"c":2,"v":0.03},{"r":19,"c":3,"v":0.03},{"r":19,"c":4,"v":0.07},{"r":19,"c":5,"v":0.03},{"r":19,"c":6,"v":0.03},{"r":19,"c":7,"v":0.03},{"r":19,"c":8,"v":0.03},{"r":19,"c":9,"v":0.03},{"r":19,"c":10,"v":0.03},{"r":19,"c":11,"v":0.03},{"r":19,"c":12,"v":0.03},{"r":19,"c":13,"v":0.03},{"r":19,"c":14,"v":0.03},{"r":19,"c":15,"v":0.03},{"r":19,"c":16,"v":0.04},{"r":19,"c":17,"v":0.05},{"r":19,"c":18,"v":0.15},{"r":19,"c":19,"v":1},{"r":19,"c":20,"v":0.25},{"r":19,"c":21,"v":0.08},{"r":19,"c":22,"v":0.25},{"r":19,"c":23,"v":0.03},{"r":19,"c":24,"v":0.03},{"r":19,"c":25,"v":0.03},{"r":19,"c":26,"v":0.03},{"r":19,"c":27,"v":0.03},{"r":19,"c":28,"v":0.03},{"r":19,"c":29,"v":0.03},
{"r":20,"c":0,"v":0.05},{"r":20,"c":1,"v":0.03},{"r":20,"c":2,"v":0.03},{"r":20,"c":3,"v":0.03},{"r":20,"c":4,"v":0.03},{"r":20,"c":5,"v":0.03},{"r":20,"c":6,"v":0.07},{"r":20,"c":7,"v":0.03},{"r":20,"c":8,"v":0.03},{"r":20,"c":9,"v":0.03},{"r":20,"c":10,"v":0.03},{"r":20,"c":11,"v":0.03},{"r":20,"c":12,"v":0.03},{"r":20,"c":13,"v":0.03},{"r":20,"c":14,"v":0.03},{"r":20,"c":15,"v":0.03},{"r":20,"c":16,"v":0.04},{"r":20,"c":17,"v":0.05},{"r":20,"c":18,"v":0.1},{"r":20,"c":19,"v":0.25},{"r":20,"c":20,"v":1},{"r":20,"c":21,"v":0.1},{"r":20,"c":22,"v":0.14},{"r":20,"c":23,"v":0.03},{"r":20,"c":24,"v":0.03},{"r":20,"c":25,"v":0.03},{"r":20,"c":26,"v":0.03},{"r":20,"c":27,"v":0.03},{"r":20,"c":28,"v":0.03},{"r":20,"c":29,"v":0.03},
{"r":21,"c":0,"v":0.05},{"r":21,"c":1,"v":0.03},{"r":21,"c":2,"v":0.03},{"r":21,"c":3,"v":0.03},{"r":21,"c":4,"v":0.03},{"r":21,"c":5,"v":0.03},{"r":21,"c":6,"v":0.03},{"r":21,"c":7,"v":0.03},{"r":21,"c":8,"v":0.03},{"r":21,"c":9,"v":0.03},{"r":21,"c":10,"v":0.07},{"r":21,"c":11,"v":0.03},{"r":21,"c":12,"v":0.03},{"r":21,"c":13,"v":0.03},{"r":21,"c":14,"v":0.03},{"r":21,"c":15,"v":0.03},{"r":21,"c":16,"v":0.04},{"r":21,"c":17,"v":0.05},{"r":21,"c":18,"v":0.12},{"r":21,"c":19,"v":0.08},{"r":21,"c":20,"v":0.1},{"r":21,"c":21,"v":1},{"r":21,"c":22,"v":0.38},{"r":21,"c":23,"v":0.03},{"r":21,"c":24,"v":0.03},{"r":21,"c":25,"v":0.03},{"r":21,"c":26,"v":0.03},{"r":21,"c":27,"v":0.03},{"r":21,"c":28,"v":0.03},{"r":21,"c":29,"v":0.03},
{"r":22,"c":0,"v":0.05},{"r":22,"c":1,"v":0.03},{"r":22,"c":2,"v":0.03},{"r":22,"c":3,"v":0.03},{"r":22,"c":4,"v":0.03},{"r":22,"c":5,"v":0.03},{"r":22,"c":6,"v":0.03},{"r":22,"c":7,"v":0.03},{"r":22,"c":8,"v":0.03},{"r":22,"c":9,"v":0.03},{"r":22,"c":10,"v":0.03},{"r":22,"c":11,"v":0.03},{"r":22,"c":12,"v":0.06},{"r":22,"c":13,"v":0.03},{"r":22,"c":14,"v":0.03},{"r":22,"c":15,"v":0.03},{"r":22,"c":16,"v":0.04},{"r":22,"c":17,"v":0.05},{"r":22,"c":18,"v":0.12},{"r":22,"c":19,"v":0.25},{"r":22,"c":20,"v":0.14},{"r":22,"c":21,"v":0.38},{"r":22,"c":22,"v":1},{"r":22,"c":23,"v":0.03},{"r":22,"c":24,"v":0.03},{"r":22,"c":25,"v":0.03},{"r":22,"c":26,"v":0.03},{"r":22,"c":27,"v":0.03},{"r":22,"c":28,"v":0.03},{"r":22,"c":29,"v":0.03},
{"r":23,"c":0,"v":0.03},{"r":23,"c":1,"v":0.03},{"r":23,"c":2,"v":0.03},{"r":23,"c":3,"v":0.03},{"r":23,"c":4,"v":0.03},{"r":23,"c":5,"v":0.1},{"r":23,"c":6,"v":0.03},{"r":23,"c":7,"v":0.09},{"r":23,"c":8,"v":0.03},{"r":23,"c":9,"v":0.03},{"r":23,"c":10,"v":0.03},{"r":23,"c":11,"v":0.08},{"r":23,"c":12,"v":0.03},{"r":23,"c":13,"v":0.03},{"r":23,"c":14,"v":0.03},{"r":23,"c":15,"v":0.03},{"r":23,"c":16,"v":0.04},{"r":23,"c":17,"v":0.05},{"r":23,"c":18,"v":0.07},{"r":23,"c":19,"v":0.03},{"r":23,"c":20,"v":0.03},{"r":23,"c":21,"v":0.03},{"r":23,"c":22,"v":0.03},{"r":23,"c":23,"v":1},{"r":23,"c":24,"v":0.36},{"r":23,"c":25,"v":0.38},{"r":23,"c":26,"v":0.14},{"r":23,"c":27,"v":0.03},{"r":23,"c":28,"v":0.03},{"r":23,"c":29,"v":0.03},
{"r":24,"c":0,"v":0.03},{"r":24,"c":1,"v":0.03},{"r":24,"c":2,"v":0.03},{"r":24,"c":3,"v":0.03},{"r":24,"c":4,"v":0.08},{"r":24,"c":5,"v":0.03},{"r":24,"c":6,"v":0.03},{"r":24,"c":7,"v":0.1},{"r":24,"c":8,"v":0.03},{"r":24,"c":9,"v":0.03},{"r":24,"c":10,"v":0.03},{"r":24,"c":11,"v":0.03},{"r":24,"c":12,"v":0.03},{"r":24,"c":13,"v":0.08},{"r":24,"c":14,"v":0.03},{"r":24,"c":15,"v":0.03},{"r":24,"c":16,"v":0.04},{"r":24,"c":17,"v":0.05},{"r":24,"c":18,"v":0.07},{"r":24,"c":19,"v":0.03},{"r":24,"c":20,"v":0.03},{"r":24,"c":21,"v":0.03},{"r":24,"c":22,"v":0.03},{"r":24,"c":23,"v":0.36},{"r":24,"c":24,"v":1},{"r":24,"c":25,"v":0.34},{"r":24,"c":26,"v":0.36},{"r":24,"c":27,"v":0.03},{"r":24,"c":28,"v":0.03},{"r":24,"c":29,"v":0.03},
{"r":25,"c":0,"v":0.03},{"r":25,"c":1,"v":0.03},{"r":25,"c":2,"v":0.03},{"r":25,"c":3,"v":0.03},{"r":25,"c":4,"v":0.03},{"r":25,"c":5,"v":0.1},{"r":25,"c":6,"v":0.03},{"r":25,"c":7,"v":0.03},{"r":25,"c":8,"v":0.03},{"r":25,"c":9,"v":0.03},{"r":25,"c":10,"v":0.03},{"r":25,"c":11,"v":0.1},{"r":25,"c":12,"v":0.03},{"r":25,"c":13,"v":0.03},{"r":25,"c":14,"v":0.03},{"r":25,"c":15,"v":0.03},{"r":25,"c":16,"v":0.04},{"r":25,"c":17,"v":0.05},{"r":25,"c":18,"v":0.07},{"r":25,"c":19,"v":0.03},{"r":25,"c":20,"v":0.03},{"r":25,"c":21,"v":0.03},{"r":25,"c":22,"v":0.03},{"r":25,"c":23,"v":0.38},{"r":25,"c":24,"v":0.34},{"r":25,"c":25,"v":1},{"r":25,"c":26,"v":0.38},{"r":25,"c":27,"v":0.03},{"r":25,"c":28,"v":0.03},{"r":25,"c":29,"v":0.03},
{"r":26,"c":0,"v":0.03},{"r":26,"c":1,"v":0.03},{"r":26,"c":2,"v":0.03},{"r":26,"c":3,"v":0.03},{"r":26,"c":4,"v":0.03},{"r":26,"c":5,"v":0.03},{"r":26,"c":6,"v":0.03},{"r":26,"c":7,"v":0.08},{"r":26,"c":8,"v":0.03},{"r":26,"c":9,"v":0.03},{"r":26,"c":10,"v":0.03},{"r":26,"c":11,"v":0.03},{"r":26,"c":12,"v":0.03},{"r":26,"c":13,"v":0.1},{"r":26,"c":14,"v":0.03},{"r":26,"c":15,"v":0.03},{"r":26,"c":16,"v":0.04},{"r":26,"c":17,"v":0.05},{"r":26,"c":18,"v":0.07},{"r":26,"c":19,"v":0.03},{"r":26,"c":20,"v":0.03},{"r":26,"c":21,"v":0.03},{"r":26,"c":22,"v":0.03},{"r":26,"c":23,"v":0.14},{"r":26,"c":24,"v":0.36},{"r":26,"c":25,"v":0.38},{"r":26,"c":26,"v":1},{"r":26,"c":27,"v":0.03},{"r":26,"c":28,"v":0.03},{"r":26,"c":29,"v":0.03},
{"r":27,"c":0,"v":0.15},{"r":27,"c":1,"v":0.03},{"r":27,"c":2,"v":0.03},{"r":27,"c":3,"v":0.03},{"r":27,"c":4,"v":0.03},{"r":27,"c":5,"v":0.03},{"r":27,"c":6,"v":0.03},{"r":27,"c":7,"v":0.03},{"r":27,"c":8,"v":0.03},{"r":27,"c":9,"v":0.03},{"r":27,"c":10,"v":0.03},{"r":27,"c":11,"v":0.03},{"r":27,"c":12,"v":0.03},{"r":27,"c":13,"v":0.03},{"r":27,"c":14,"v":0.03},{"r":27,"c":15,"v":0.03},{"r":27,"c":16,"v":0.18},{"r":27,"c":17,"v":0.03},{"r":27,"c":18,"v":0.03},{"r":27,"c":19,"v":0.03},{"r":27,"c":20,"v":0.03},{"r":27,"c":21,"v":0.03},{"r":27,"c":22,"v":0.03},{"r":27,"c":23,"v":0.03},{"r":27,"c":24,"v":0.03},{"r":27,"c":25,"v":0.03},{"r":27,"c":26,"v":0.03},{"r":27,"c":27,"v":1},{"r":27,"c":28,"v":0.25},{"r":27,"c":29,"v":0.03},
{"r":28,"c":0,"v":0.03},{"r":28,"c":1,"v":0.03},{"r":28,"c":2,"v":0.03},{"r":28,"c":3,"v":0.03},{"r":28,"c":4,"v":0.03},{"r":28,"c":5,"v":0.03},{"r":28,"c":6,"v":0.03},{"r":28,"c":7,"v":0.03},{"r":28,"c":8,"v":0.03},{"r":28,"c":9,"v":0.03},{"r":28,"c":10,"v":0.03},{"r":28,"c":11,"v":0.03},{"r":28,"c":12,"v":0.03},{"r":28,"c":13,"v":0.03},{"r":28,"c":14,"v":0.03},{"r":28,"c":15,"v":0.03},{"r":28,"c":16,"v":0.03},{"r":28,"c":17,"v":0.03},{"r":28,"c":18,"v":0.03},{"r":28,"c":19,"v":0.03},{"r":28,"c":20,"v":0.03},{"r":28,"c":21,"v":0.03},{"r":28,"c":22,"v":0.03},{"r":28,"c":23,"v":0.03},{"r":28,"c":24,"v":0.03},{"r":28,"c":25,"v":0.03},{"r":28,"c":26,"v":0.03},{"r":28,"c":27,"v":0.25},{"r":28,"c":28,"v":1},{"r":28,"c":29,"v":0.04},
{"r":29,"c":0,"v":0.07},{"r":29,"c":1,"v":0.03},{"r":29,"c":2,"v":0.03},{"r":29,"c":3,"v":0.03},{"r":29,"c":4,"v":0.03},{"r":29,"c":5,"v":0.03},{"r":29,"c":6,"v":0.03},{"r":29,"c":7,"v":0.03},{"r":29,"c":8,"v":0.03},{"r":29,"c":9,"v":0.03},{"r":29,"c":10,"v":0.03},{"r":29,"c":11,"v":0.03},{"r":29,"c":12,"v":0.03},{"r":29,"c":13,"v":0.03},{"r":29,"c":14,"v":0.03},{"r":29,"c":15,"v":0.03},{"r":29,"c":16,"v":0.07},{"r":29,"c":17,"v":0.03},{"r":29,"c":18,"v":0.03},{"r":29,"c":19,"v":0.03},{"r":29,"c":20,"v":0.03},{"r":29,"c":21,"v":0.03},{"r":29,"c":22,"v":0.03},{"r":29,"c":23,"v":0.03},{"r":29,"c":24,"v":0.03},{"r":29,"c":25,"v":0.03},{"r":29,"c":26,"v":0.03},{"r":29,"c":27,"v":0.03},{"r":29,"c":28,"v":0.04},{"r":29,"c":29,"v":1}
],
"labA":[
{"r":0,"t":"Decision Phase"},{"r":1,"t":"\u2009Probability (C)"},{"r":2,"t":"\u2009Probability (UC)"},{"r":3,"t":"\u2009PredRewMag (C)"},{"r":4,"t":"\u2009PredRewMag (UC)"},{"r":5,"t":"\u2009PredEffMag (C)"},{"r":6,"t":"\u2009PredEffMag (UC)"},{"r":7,"t":"\u2009Real/hypoth. reward last trial"},{"r":8,"t":"Outcome phase"},{"r":9,"t":"\u2009Real/hypoth. reward this trial"},{"r":10,"t":"\u2009Probability (C)"},{"r":11,"t":"\u2009RewMagOutcome (C)"},{"r":12,"t":"\u2009RewMagOutcome (UC)*"},{"r":13,"t":"\u2009EffMagOutcome (C)"},{"r":14,"t":"\u2009EffMagOutcome (UC)*"},{"r":15,"t":"Effort exertion Phase"},{"r":16,"t":"\u2009Clicking rate"},{"r":17,"t":"Counfound - visual"}
],
"labB":[
{"r":0,"t":"Decision Phase"},{"r":1,"t":"\u2009Real/hypothetical last trial"},{"r":2,"t":"\u2009Probability (C)"},{"r":3,"t":"\u2009Probability (UC)"},{"r":4,"t":"\u2009PredRewMag (C)"},{"r":5,"t":"\u2009PredRewMag (UC)"},{"r":6,"t":"\u2009PredEffMag (C)"},{"r":7,"t":"\u2009PredEffMag (UC)"},{"r":8,"t":"\u2009Probability (C)"},{"r":9,"t":"\u2009Probability (UC)"},{"r":10,"t":"\u2009PredRewMag (C)"},{"r":11,"t":"\u2009PredRewMag (UC)"},{"r":12,"t":"\u2009PredEffMag (C)"},{"r":13,"t":"\u2009Pred EffMag (UC)"},{"r":14,"t":"\u2009Stay-Switch (real reward last trial)"},{"r":15,"t":"\u2009Stay-Switch (hypoth. rew last trial)"},{"r":16,"t":"Outcome phase"},{"r":17,"t":"\u2009Real/hypoth. reward this trial"},{"r":18,"t":"\u2009Probability (C)"},{"r":19,"t":"\u2009RewMagOutc. (C)"},{"r":20,"t":"\u2009EffMagOutc (C)"},{"r":21,"t":"\u2009RewMagOutc (UC)*"},{"r":22,"t":"\u2009EffMagOutc (UC)*"},{"r":23,"t":"\u2009RewMagOutc (C)"},{"r":24,"t":"\u2009EffMagOutc (C)"},{"r":25,"t":"\u2009RewMagOutc (UC)*"},{"r":26,"t":"\u2009EffMagOutc (UC)*"},{"r":27,"t":"Effort exertion Phase"},{"r":28,"t":"\u2009Clicking Rate"},{"r":29,"t":"Confound - visual"}
],
"braces":[
{"n":6,"mid":5,"ty":5.06,"t":["Real reward","last trial"]},
{"n":6,"mid":11,"ty":10.92,"t":["Hypothetical","reward last","trial"]},
{"n":4,"mid":21,"ty":20.33,"t":["Real reward","this trial"]},
{"n":4,"mid":25,"ty":24.77,"t":["Hypothetical","reward this","trial"]}
],
"titles":[{"p":"A","t":"GLM 1 - regressor correlations (r-values)"},{"p":"B","t":"GLM 3 - regressor correlations (r-values)"}]
},
"layer":[
{"layer":[
 {"data":{"name":"A"},
  "mark":{"type":"rect","align":"left","baseline":"top","width":15.3,"height":12.8,"strokeWidth":0.8},
  "encoding":{
   "x":{"field":"c","type":"quantitative","scale":{"domain":[-10.896,31.885],"zero":false,"nice":false},"axis":null},
   "y":{"field":"r","type":"quantitative","scale":{"domain":[-1.2857,50.143],"zero":false,"nice":false,"reverse":true},"axis":null},
   "color":{"field":"v","type":"quantitative",
     "scale":{"domain":[0,0.125,0.375,0.625,0.875,1],"range":["#000080","#0000ff","#00ffff","#ffff00","#ff0000","#800000"],"interpolate":"rgb"},
     "legend":{"orient":"none","legendX":436,"legendY":16,"direction":"vertical","gradientLength":224,"gradientThickness":8,"values":[0,0.1,0.2,0.3,0.4,0.5,0.6,0.7,0.8,0.9,1],"format":".1~f","title":null,"padding":0,"labelFontSize":10,"labelColor":"#222","labelOffset":4,"gradientStrokeWidth":0}},
   "stroke":{"field":"v","type":"quantitative",
     "scale":{"domain":[0,0.125,0.375,0.625,0.875,1],"range":["#000080","#0000ff","#00ffff","#ffff00","#ff0000","#800000"],"interpolate":"rgb"},
     "legend":null}
  }},
 {"data":{"values":[{}]},
  "mark":{"type":"rect","filled":false,"fill":null,"stroke":"#666","strokeWidth":0.8},
  "encoding":{
   "x":{"datum":0,"type":"quantitative","scale":{"domain":[-10.896,31.885],"zero":false,"nice":false},"axis":null},"x2":{"datum":18},
   "y":{"datum":0,"type":"quantitative","scale":{"domain":[-1.2857,50.143],"zero":false,"nice":false,"reverse":true},"axis":null},"y2":{"datum":18}
  }},
 {"data":{"name":"titles"},"transform":[{"filter":"datum.p == 'A'"}],
  "mark":{"type":"text","align":"left","baseline":"alphabetic","fontSize":16.5,"fontWeight":"bold","font":"DejaVu Sans","color":"#000"},
  "encoding":{
   "x":{"datum":-10.796,"type":"quantitative","scale":{"domain":[-10.896,31.885],"zero":false,"nice":false},"axis":null},
   "y":{"datum":-0.08,"type":"quantitative","scale":{"domain":[-1.2857,50.143],"zero":false,"nice":false,"reverse":true},"axis":null},
   "text":{"field":"p"}}},
 {"data":{"name":"titles"},"transform":[{"filter":"datum.p == 'A'"}],
  "mark":{"type":"text","align":"left","baseline":"alphabetic","fontSize":12.3,"fontWeight":"bold","font":"DejaVu Sans","color":"#000"},
  "encoding":{
   "x":{"datum":-9.572,"type":"quantitative","scale":{"domain":[-10.896,31.885],"zero":false,"nice":false},"axis":null},
   "y":{"datum":-0.08,"type":"quantitative","scale":{"domain":[-1.2857,50.143],"zero":false,"nice":false,"reverse":true},"axis":null},
   "text":{"field":"t"}}},
 {"data":{"values":[{"t":"r-values"}]},
  "mark":{"type":"text","align":"left","baseline":"alphabetic","fontSize":12,"font":"DejaVu Sans","color":"#222"},
  "encoding":{
   "x":{"datum":20.187,"type":"quantitative","scale":{"domain":[-10.896,31.885],"zero":false,"nice":false},"axis":null},
   "y":{"datum":0.378,"type":"quantitative","scale":{"domain":[-1.2857,50.143],"zero":false,"nice":false,"reverse":true},"axis":null},
   "text":{"field":"t"}}}
]},
{"data":{"name":"labA"},
 "mark":{"type":"text","align":"left","baseline":"alphabetic","fontSize":10.5,"font":"DejaVu Sans","color":"#1a1a1a"},
 "encoding":{
  "x":{"datum":-10.796,"type":"quantitative","scale":{"domain":[-10.896,31.885],"zero":false,"nice":false},"axis":null},
  "y":{"field":"r","type":"quantitative","scale":{"domain":[-2.384,49.691],"zero":false,"nice":false,"reverse":true},"axis":null},
  "text":{"field":"t"}}},
{"layer":[
 {"data":{"name":"B"},
  "mark":{"type":"rect","align":"left","baseline":"top","width":15.2,"height":12.8,"strokeWidth":0.8},
  "encoding":{
   "x":{"field":"c","type":"quantitative","scale":{"domain":[-12.886,30.134],"zero":false,"nice":false},"axis":null},
   "y":{"field":"r","type":"quantitative","scale":{"domain":[-21.251,30.266],"zero":false,"nice":false,"reverse":true},"axis":null},
   "color":{"field":"v","type":"quantitative",
     "scale":{"domain":[0,0.125,0.375,0.625,0.875,1],"range":["#000080","#0000ff","#00ffff","#ffff00","#ff0000","#800000"],"interpolate":"rgb"},
     "legend":null},
   "stroke":{"field":"v","type":"quantitative",
     "scale":{"domain":[0,0.125,0.375,0.625,0.875,1],"range":["#000080","#0000ff","#00ffff","#ffff00","#ff0000","#800000"],"interpolate":"rgb"},
     "legend":null}
  }},
 {"data":{"values":[{}]},
  "mark":{"type":"rect","filled":false,"fill":null,"stroke":"#666","strokeWidth":0.8},
  "encoding":{
   "x":{"datum":0,"type":"quantitative","scale":{"domain":[-12.886,30.134],"zero":false,"nice":false},"axis":null},"x2":{"datum":30},
   "y":{"datum":0,"type":"quantitative","scale":{"domain":[-21.251,30.266],"zero":false,"nice":false,"reverse":true},"axis":null},"y2":{"datum":30}
  }},
 {"data":{"name":"titles"},"transform":[{"filter":"datum.p == 'B'"}],
  "mark":{"type":"text","align":"left","baseline":"alphabetic","fontSize":16.5,"fontWeight":"bold","font":"DejaVu Sans","color":"#000"},
  "encoding":{
   "x":{"datum":-12.785,"type":"quantitative","scale":{"domain":[-12.886,30.134],"zero":false,"nice":false},"axis":null},
   "y":{"datum":-0.12,"type":"quantitative","scale":{"domain":[-21.251,30.266],"zero":false,"nice":false,"reverse":true},"axis":null},
   "text":{"field":"p"}}},
 {"data":{"name":"titles"},"transform":[{"filter":"datum.p == 'B'"}],
  "mark":{"type":"text","align":"left","baseline":"alphabetic","fontSize":12.3,"fontWeight":"bold","font":"DejaVu Sans","color":"#000"},
  "encoding":{
   "x":{"datum":-11.541,"type":"quantitative","scale":{"domain":[-12.886,30.134],"zero":false,"nice":false},"axis":null},
   "y":{"datum":-0.12,"type":"quantitative","scale":{"domain":[-21.251,30.266],"zero":false,"nice":false,"reverse":true},"axis":null},
   "text":{"field":"t"}}},
 {"data":{"name":"braces"},"transform":[{"filter":"datum.n == 6"}],
  "mark":{"type":"point","shape":"M -0.056 -1 Q 0 -1 0 -0.944 L 0 -0.07 Q 0 0 0.07 0 Q 0 0 0 0.07 L 0 0.944 Q 0 1 -0.056 1","size":5140,"filled":false,"stroke":"#222","strokeWidth":1,"opacity":1},
  "encoding":{
   "x":{"datum":-5.713,"type":"quantitative","scale":{"domain":[-12.886,30.134],"zero":false,"nice":false},"axis":null},
   "y":{"field":"mid","type":"quantitative","scale":{"domain":[-21.251,30.266],"zero":false,"nice":false,"reverse":true},"axis":null}}},
 {"data":{"name":"braces"},"transform":[{"filter":"datum.n == 4"}],
  "mark":{"type":"point","shape":"M -0.09 -1 Q 0 -1 0 -0.91 L 0 -0.11 Q 0 0 0.11 0 Q 0 0 0 0.11 L 0 0.91 Q 0 1 -0.09 1","size":1910,"filled":false,"stroke":"#222","strokeWidth":1,"opacity":1},
  "encoding":{
   "x":{"datum":-5.606,"type":"quantitative","scale":{"domain":[-12.886,30.134],"zero":false,"nice":false},"axis":null},
   "y":{"field":"mid","type":"quantitative","scale":{"domain":[-21.251,30.266],"zero":false,"nice":false,"reverse":true},"axis":null}}},
 {"data":{"name":"braces"},
  "mark":{"type":"text","align":"left","baseline":"middle","fontSize":10.5,"lineHeight":11.2,"font":"DejaVu Sans","color":"#1a1a1a"},
  "encoding":{
   "x":{"datum":-5.2,"type":"quantitative","scale":{"domain":[-12.886,30.134],"zero":false,"nice":false},"axis":null},
   "y":{"field":"ty","type":"quantitative","scale":{"domain":[-21.251,30.266],"zero":false,"nice":false,"reverse":true},"axis":null},
   "text":{"field":"t"}}}
]},
{"data":{"name":"labB"},
 "mark":{"type":"text","align":"left","baseline":"alphabetic","fontSize":10.5,"font":"DejaVu Sans","color":"#1a1a1a"},
 "encoding":{
  "x":{"datum":-12.785,"type":"quantitative","scale":{"domain":[-12.886,30.134],"zero":false,"nice":false},"axis":null},
  "y":{"field":"r","type":"quantitative","scale":{"domain":[-22.681,29.478],"zero":false,"nice":false,"reverse":true},"axis":null},
  "text":{"field":"t"}}}
],
"resolve":{"scale":{"x":"independent","y":"independent","color":"independent"}}
}
